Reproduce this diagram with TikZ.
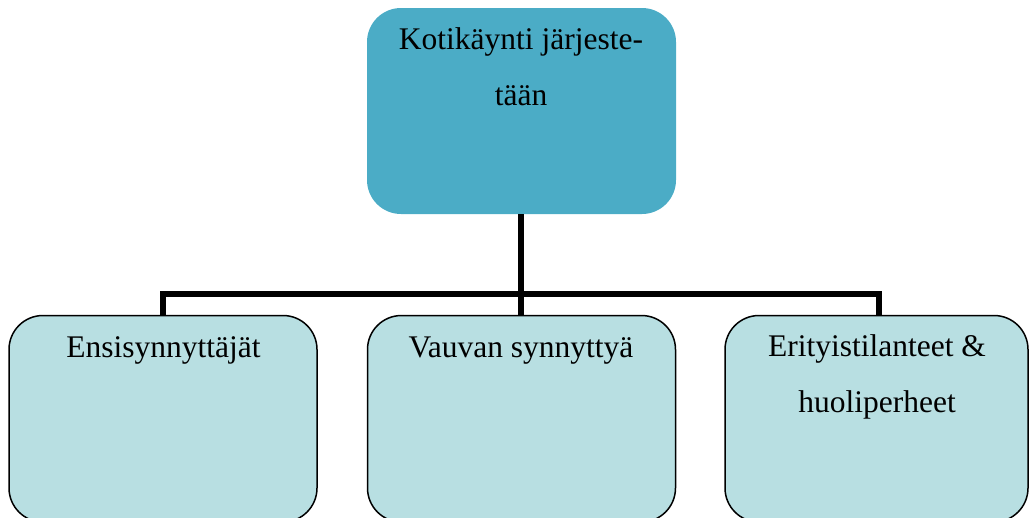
\documentclass[tikz,border=0pt]{standalone}
\usepackage{fontspec}
\setmainfont{Liberation Serif}
\definecolor{topfill}{HTML}{4BACC6}
\definecolor{subfill}{HTML}{B8DFE2}
\begin{document}
\begin{tikzpicture}[x=1pt,y=-1pt,
  topbox/.style={rounded corners=34pt, fill=topfill, draw=none},
  subbox/.style={rounded corners=34pt, fill=subfill, draw=black, line width=1.5pt},
  boxtext/.style={anchor=base, align=center, inner sep=0pt, font=\fontsize{31.5}{56}\selectfont},
  conn/.style={draw=black, line width=6pt}]
\clip (0,0) rectangle (1030,517);
% top box
\draw[topbox] (367,8) rectangle (676,214);
\coordinate (top) at (521,214);
% connectors
\coordinate (hub) at (521,294);
\coordinate (hl) at (163,294);
\coordinate (hr) at (879,294);
\draw[conn] (top) -- (hub);
\draw[conn, line cap=butt] (hl) -- (hr);
\draw[conn] (163,291) -- (163,316);
\draw[conn] (521,291) -- (521,316);
\draw[conn] (879,291) -- (879,316);
% lower boxes
\draw[subbox] (9,315.5) rectangle (317,522);
\draw[subbox] (367.5,315.5) rectangle (675.5,522);
\draw[subbox] (725,315.5) rectangle (1028,522);
% labels (base anchor sits on the last line)
\node[boxtext] (ttop) at (521,105) {Kotikäynti järjeste-\\tään};
\node[boxtext] (tl) at (163.5,357) {Ensisynnyttäjät};
\node[boxtext] (tm) at (521,357) {Vauvan synnyttyä};
\node[boxtext] (tr) at (877,412) {Erityistilanteet \&\\huoliperheet};
\end{tikzpicture}
\end{document}
